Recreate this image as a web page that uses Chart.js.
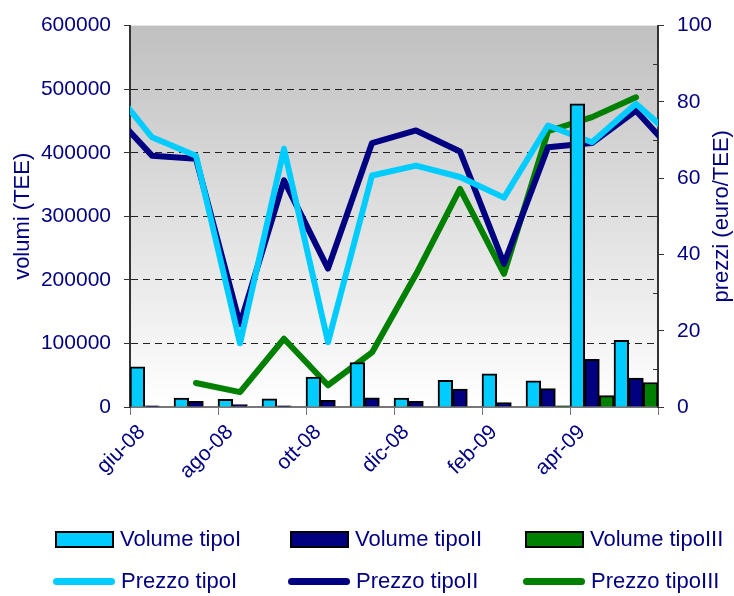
<!DOCTYPE html>
<html>
<head>
<meta charset="utf-8">
<script src="https://cdn.jsdelivr.net/npm/chart.js@4.4.1/dist/chart.umd.min.js"></script>
<style>
    html, body { margin: 0; padding: 0; background: #fff; }
    #wrap { position: relative; width: 734px; height: 596px; }
    #legend {
        position: absolute; left: 0; top: 0; width: 734px; height: 596px;
        font-family: 'Liberation Sans', Arial, sans-serif;
        font-size: 22px; color: #000080; pointer-events: none;
    }
    .item { position: absolute; height: 30px; display: flex; align-items: center; white-space: nowrap; }
    .box { width: 59px; height: 17px; box-sizing: border-box; border: 2px solid #000; margin-right: 6px; }
    .line { width: 62px; height: 7px; border-radius: 4px; margin-right: 6px; margin-left: -2px; }
</style>
</head>
<body>
<div id="wrap">
    <canvas id="chart" width="734" height="596"></canvas>
    <div id="legend"></div>
</div>
<script>
// Data (one extra month on each side so the price lines run to the plot edges)
const months = ['mag-08', 'giu-08', 'lug-08', 'ago-08', 'set-08', 'ott-08', 'nov-08',
    'dic-08', 'gen-09', 'feb-09', 'mar-09', 'apr-09', 'mag-09', 'giu-09'];
const tickLabels = ['giu-08', 'ago-08', 'ott-08', 'dic-08', 'feb-09', 'apr-09', ''];

const volumeTipoI = [null, 63000, 14000, 12000, 13000, 47000, 70000, 14000, 42000, 52000, 41000, 477000, 105000, null];
const volumeTipoII = [null, 2000, 9000, 4000, 2000, 10500, 14500, 9000, 28000, 7000, 29000, 75000, 45500, null];
const volumeTipoIII = [null, 0, 0, 0, 0, 0, 0, 0, 0, 0, 2000, 18000, 38500, null];

const prezzoTipoI = [85, 70.7, 65.9, 16.7, 67.7, 17.0, 60.7, 63.3, 60.3, 54.9, 73.8, 69.4, 79.5, 69.3];
const prezzoTipoII = [78.4, 65.9, 65.1, 21.7, 59.4, 36.3, 69.2, 72.5, 67.0, 37.6, 68.1, 69.2, 77.7, 65.0];
const prezzoTipoIII = [null, null, 6.3, 3.9, 17.9, 5.7, 14.3, 34.8, 57.2, 34.9, 72.3, 76.0, 81.2, null];

const minorPriceTicks = [10, 30, 50, 70, 90];

const FONT = "'Liberation Sans', Arial, sans-serif";
const NAVY = '#000080';

Chart.defaults.font.family = FONT;
Chart.defaults.color = NAVY;

// Grey-to-white gradient behind the plot
const plotBackground = {
    id: 'plotBackground',
    beforeDraw(chart) {
        const { ctx, chartArea: a } = chart;
        const g = ctx.createLinearGradient(0, a.top, 0, a.bottom);
        g.addColorStop(0, '#c0c0c0');
        g.addColorStop(1, '#ffffff');
        ctx.save();
        ctx.fillStyle = g;
        ctx.fillRect(a.left, a.top, a.right - a.left, a.bottom - a.top);
        ctx.restore();
    }
};

// Axis titles (both read bottom to top) and the small inner ticks of the price axis
const axisExtras = {
    id: 'axisExtras',
    afterDraw(chart) {
        const { ctx, chartArea: a } = chart;
        const midY = (a.top + a.bottom) / 2;
        ctx.save();
        ctx.fillStyle = NAVY;
        ctx.font = '22px ' + FONT;
        ctx.textAlign = 'center';
        ctx.textBaseline = 'middle';
        [['volumi (TEE)', 23], ['prezzi (euro/TEE)', 722]].forEach(([text, x]) => {
            ctx.save();
            ctx.translate(x, midY);
            ctx.rotate(-Math.PI / 2);
            ctx.fillText(text, 0, 0);
            ctx.restore();
        });
        const y1 = chart.scales.y1;
        ctx.strokeStyle = '#333';
        ctx.lineWidth = 1;
        minorPriceTicks.forEach((v) => {
            const py = Math.round(y1.getPixelForValue(v)) + 0.5;
            ctx.beginPath();
            ctx.moveTo(a.right - 5, py);
            ctx.lineTo(a.right, py);
            ctx.stroke();
        });
        ctx.restore();
    }
};

// Month index on a linear x axis: category i is centred on i, edges at i +- 0.5
const asPoints = (arr) => arr.map((v, i) => ({ x: i, y: v }));

const barDefaults = { type: 'bar', yAxisID: 'y', borderColor: '#000', borderWidth: 2,
    categoryPercentage: 1, barPercentage: 1, order: 1 };
const lineDefaults = { type: 'line', yAxisID: 'y1', borderWidth: 6, pointRadius: 0,
    tension: 0, fill: false, borderCapStyle: 'round', borderJoinStyle: 'round', order: 2 };

const chart = new Chart(document.getElementById('chart'), {
    data: {
        labels: months,
        datasets: [
            { ...barDefaults, label: 'Volume tipoI', data: asPoints(volumeTipoI), backgroundColor: '#00ccff' },
            { ...barDefaults, label: 'Volume tipoII', data: asPoints(volumeTipoII), backgroundColor: '#000080' },
            { ...barDefaults, label: 'Volume tipoIII', data: asPoints(volumeTipoIII), backgroundColor: '#008000' },
            { ...lineDefaults, label: 'Prezzo tipoI', data: asPoints(prezzoTipoI), borderColor: '#00ccff' },
            { ...lineDefaults, label: 'Prezzo tipoII', data: asPoints(prezzoTipoII), borderColor: '#000080' },
            { ...lineDefaults, label: 'Prezzo tipoIII', data: asPoints(prezzoTipoIII), borderColor: '#008000' }
        ]
    },
    options: {
        responsive: false,
        animation: false,
        layout: { padding: { top: 25 } },
        plugins: { legend: { display: false }, tooltip: { enabled: false } },
        scales: {
            x: {
                type: 'linear',
                position: 'bottom',
                min: 0.5,
                max: months.length - 1.5,
                offset: false,
                afterFit: (s) => { s.height = 189; },
                border: { color: '#777', width: 2 },
                grid: { offset: false, drawOnChartArea: false, tickLength: 8, tickColor: '#777', tickWidth: 1 },
                ticks: {
                    stepSize: 2,
                    autoSkip: false,
                    maxRotation: 45,
                    minRotation: 45,
                    padding: 5,
                    labelOffset: 12,
                    font: { size: 21 },
                    color: NAVY,
                    callback: (v, i) => tickLabels[i]
                }
            },
            y: {
                position: 'left',
                min: 0,
                max: 600000,
                afterFit: (s) => { s.width = 130; },
                border: { color: '#333', width: 2, dash: [7, 5] },
                grid: {
                    color: (c) => (c.tick.value > 0 && c.tick.value < 600000) ? '#222' : 'rgba(0,0,0,0)',
                    lineWidth: 1,
                    tickLength: 6,
                    tickColor: '#333'
                },
                ticks: { stepSize: 100000, padding: 13, font: { size: 21 }, color: NAVY,
                    callback: (v) => String(v) }
            },
            y1: {
                position: 'right',
                min: 0,
                max: 100,
                afterFit: (s) => { s.width = 76; },
                border: { color: '#333', width: 2 },
                grid: { drawOnChartArea: false, tickLength: 6, tickColor: '#333' },
                ticks: { stepSize: 20, padding: 13, font: { size: 21 }, color: NAVY }
            }
        }
    },
    plugins: [plotBackground, axisExtras]
});

// Legend: three columns, bars on the first row, lines on the second
const legend = document.getElementById('legend');
const colLeft = [55, 290, 525];
const rowTop = [524, 566];
chart.data.datasets.forEach((ds, i) => {
    const isBar = ds.type === 'bar';
    const item = document.createElement('div');
    item.className = 'item';
    item.style.left = colLeft[i % 3] + 'px';
    item.style.top = rowTop[isBar ? 0 : 1] + 'px';
    const sw = document.createElement('span');
    sw.className = isBar ? 'box' : 'line';
    sw.style.background = isBar ? ds.backgroundColor : ds.borderColor;
    const txt = document.createElement('span');
    txt.textContent = ds.label;
    item.appendChild(sw);
    item.appendChild(txt);
    legend.appendChild(item);
});
</script>
</body>
</html>
